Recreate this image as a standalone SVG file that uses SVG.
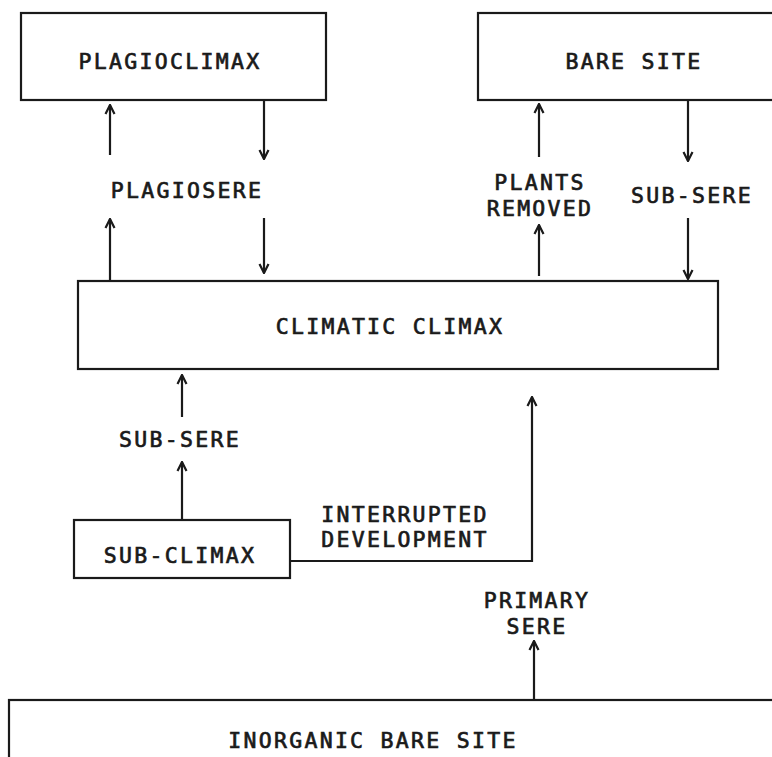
<svg xmlns="http://www.w3.org/2000/svg" width="772" height="757" viewBox="0 0 772 757">
<defs>
<style>
.box{fill:#fff;stroke:#1a1a1a;stroke-width:2.2}
.ln{fill:none;stroke:#1a1a1a;stroke-width:2.2}
text{font-family:"DejaVu Sans Mono","Liberation Mono",monospace;font-size:21.5px;fill:#1a1a1a;stroke:#1a1a1a;stroke-width:0.7px;letter-spacing:2.3px;text-anchor:middle}
</style>
<marker id="ah" viewBox="0 0 14 12" refX="13" refY="6" markerWidth="14" markerHeight="12" markerUnits="userSpaceOnUse" orient="auto">
<polyline points="4,1.5 13,6 4,10.5" fill="none" stroke="#1a1a1a" stroke-width="2.2"/>
</marker>
</defs>
<rect width="772" height="757" fill="#fff"/>
<g id="plagioclimax"><rect class="box" x="21" y="13" width="305" height="87"/><text x="170" y="69">PLAGIOCLIMAX</text></g>
<g id="bare-site"><rect class="box" x="478" y="13" width="310" height="87"/><text x="634" y="69">BARE SITE</text></g>
<g id="climatic-climax"><rect class="box" x="78" y="281" width="640" height="88"/><text x="390" y="334">CLIMATIC CLIMAX</text></g>
<g id="sub-climax"><rect class="box" x="74" y="520" width="216" height="58"/><text x="180" y="563">SUB-CLIMAX</text></g>
<g id="inorganic-bare-site"><rect class="box" x="9" y="700" width="790" height="80"/><text x="373" y="748">INORGANIC BARE SITE</text></g>
<g id="connectors">
<line class="ln" x1="110" y1="155" x2="110" y2="105" marker-end="url(#ah)"/>
<line class="ln" x1="110" y1="281" x2="110" y2="219" marker-end="url(#ah)"/>
<line class="ln" x1="264" y1="100" x2="264" y2="159" marker-end="url(#ah)"/>
<line class="ln" x1="264" y1="218" x2="264" y2="273" marker-end="url(#ah)"/>
<line class="ln" x1="539" y1="157" x2="539" y2="104" marker-end="url(#ah)"/>
<line class="ln" x1="539" y1="276" x2="539" y2="225" marker-end="url(#ah)"/>
<line class="ln" x1="688" y1="100" x2="688" y2="161" marker-end="url(#ah)"/>
<line class="ln" x1="688" y1="218" x2="688" y2="279" marker-end="url(#ah)"/>
<line class="ln" x1="182" y1="417" x2="182" y2="375" marker-end="url(#ah)"/>
<line class="ln" x1="182" y1="520" x2="182" y2="462" marker-end="url(#ah)"/>
<polyline class="ln" points="290,561 532,561 532,397" marker-end="url(#ah)"/>
<line class="ln" x1="534" y1="700" x2="534" y2="641" marker-end="url(#ah)"/>
</g>
<g id="labels">
<text x="187" y="198">PLAGIOSERE</text>
<text x="540" y="190">PLANTS</text>
<text x="540" y="216">REMOVED</text>
<text x="692" y="203">SUB-SERE</text>
<text x="180" y="447">SUB-SERE</text>
<text x="405" y="522">INTERRUPTED</text>
<text x="405" y="547">DEVELOPMENT</text>
<text x="537" y="608">PRIMARY</text>
<text x="537" y="634">SERE</text>
</g>
</svg>
